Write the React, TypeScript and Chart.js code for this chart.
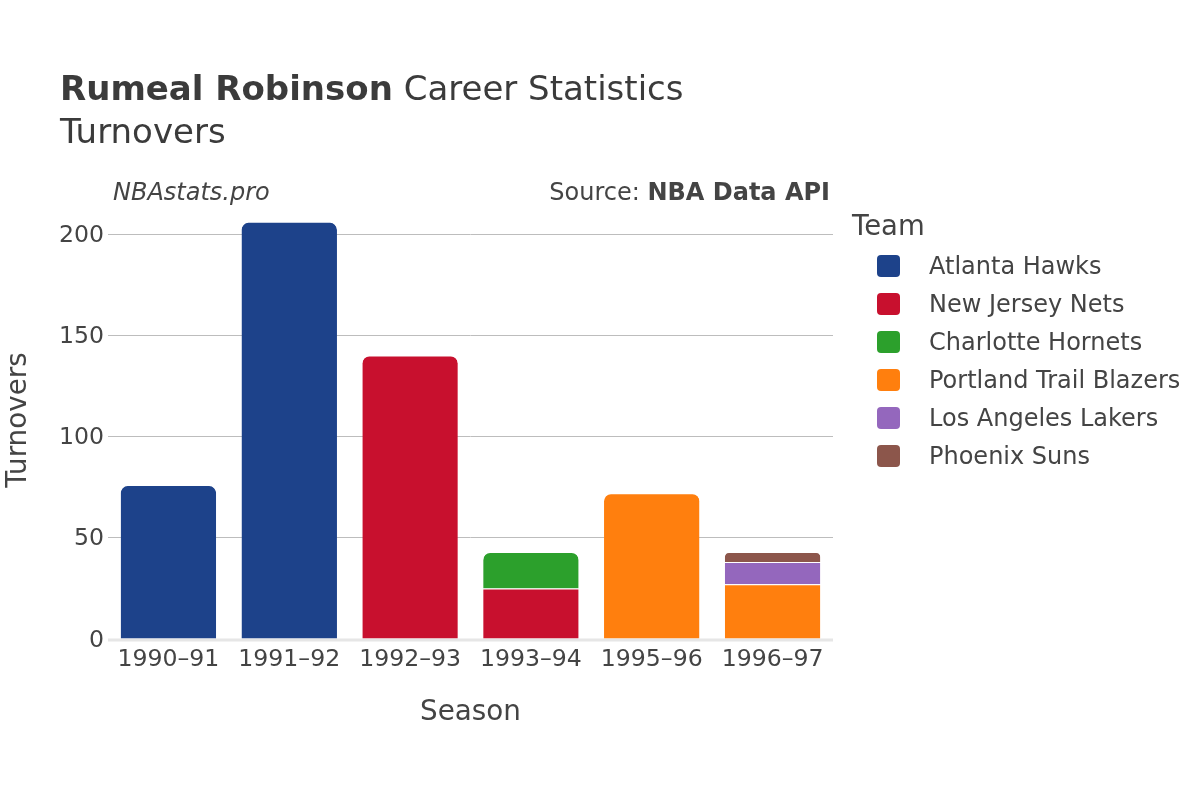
import React, { useEffect, useRef } from "react";
import { Chart, registerables } from "chart.js";

Chart.register(...registerables);

const seasons = ["1990–91", "1991–92", "1992–93", "1993–94", "1995–96", "1996–97"];
const teams = [
  "Atlanta Hawks",
  "New Jersey Nets",
  "Charlotte Hornets",
  "Portland Trail Blazers",
  "Los Angeles Lakers",
  "Phoenix Suns",
];
const teamColors = ["#1d428a", "#c8102e", "#2ca02c", "#ff7f0e", "#9467bd", "#8c564b"];
const atlantaHawks = [76, 206, null, null, null, null];
const newJerseyNets = [null, null, 140, 25, null, null];
const charlotteHornets = [null, null, null, 18, null, null];
const portlandTrailBlazers = [null, null, null, null, 72, 27];
const losAngelesLakers = [null, null, null, null, null, 11];
const phoenixSuns = [null, null, null, null, null, 5];
const yTicks = [0, 50, 100, 150, 200];
const yMax = 216.8;

const seriesValues = [
  atlantaHawks,
  newJerseyNets,
  charlotteHornets,
  portlandTrailBlazers,
  losAngelesLakers,
  phoenixSuns,
];

const FONT = "'DejaVu Sans', sans-serif";
const TEXT = "#444";

function isTopOfStack(datasetIndex: number, index: number) {
  for (let d = seriesValues.length - 1; d >= 0; d--) {
    const v = seriesValues[d][index];
    if (v !== null && v !== undefined && v > 0) return d === datasetIndex;
  }
  return false;
}

const decorPlugin = {
  id: "decor",
  beforeDatasetsDraw(chart: any) {
    const { ctx, chartArea } = chart;
    ctx.save();
    ctx.fillStyle = "#e6e6e6";
    ctx.fillRect(chartArea.left, chartArea.bottom - 0.5, chartArea.right - chartArea.left, 3);
    ctx.restore();
  },
  afterDraw(chart: any) {
    const { ctx, chartArea } = chart;
    ctx.save();
    ctx.fillStyle = "#3b3b3b";
    ctx.textBaseline = "middle";
    ctx.textAlign = "left";
    // Title
    ctx.font = `bold 34px ${FONT}`;
    const bold = "Rumeal Robinson";
    ctx.fillText(bold, 60, 91);
    const bw = ctx.measureText(bold).width;
    ctx.font = `34px ${FONT}`;
    ctx.fillText(" Career Statistics", 60 + bw, 91);
    ctx.fillText("Turnovers", 60, 134);

    // Subtitle
    ctx.fillStyle = TEXT;
    ctx.font = `italic 24px ${FONT}`;
    ctx.fillText("NBAstats.pro", 113, 194);
    ctx.textAlign = "right";
    ctx.font = `bold 24px ${FONT}`;
    const src = "NBA Data API";
    ctx.fillText(src, 830, 194);
    const sw = ctx.measureText(src).width;
    ctx.font = `24px ${FONT}`;
    ctx.fillText("Source: ", 830 - sw, 194);

    // Axis titles
    ctx.textAlign = "center";
    ctx.font = `27.8px ${FONT}`;
    ctx.fillText("Season", (chartArea.left + chartArea.right) / 2, 713);
    ctx.save();
    ctx.translate(19, 420);
    ctx.rotate(-Math.PI / 2);
    ctx.fillText("Turnovers", 0, 0);
    ctx.restore();

    // Legend
    ctx.textAlign = "left";
    ctx.font = `27.5px ${FONT}`;
    ctx.fillText("Team", 852, 228);
    ctx.font = `24px ${FONT}`;
    teams.forEach((t, i) => {
      const cy = 266 + i * 38;
      ctx.fillStyle = teamColors[i];
      ctx.beginPath();
      (ctx as any).roundRect(877, cy - 11, 23, 22, 4);
      ctx.fill();
      ctx.fillStyle = TEXT;
      ctx.fillText(t, 929, cy + 2);
    });
    ctx.restore();
  },
};

export default function App() {
  const ref = useRef<HTMLCanvasElement | null>(null);
  useEffect(() => {
    if (!ref.current) return;
    const chart = new Chart(ref.current, {
      type: "bar",
      data: {
        labels: seasons,
        datasets: teams.map((t, i) => ({
          label: t,
          data: seriesValues[i],
          backgroundColor: teamColors[i],
          borderColor: "#ffffff",
          borderWidth: { top: 1, left: 0, right: 0, bottom: 0 },
          borderSkipped: "start",
          borderRadius: (c: any) =>
            isTopOfStack(c.datasetIndex, c.dataIndex)
              ? { topLeft: 8, topRight: 8, bottomLeft: 0, bottomRight: 0 }
              : 0,
          barPercentage: 0.79,
          categoryPercentage: 1,
        })),
      },
      options: {
        responsive: false,
        animation: false,
        layout: { padding: { top: 200, left: 0, right: 367, bottom: 0 } },
        plugins: {
          legend: { display: false },
          title: { display: false },
          tooltip: { enabled: false },
        },
        scales: {
          x: {
            stacked: true,
            grid: { display: false, drawTicks: false },
            border: { display: false },
            ticks: {
              color: TEXT,
              font: { family: FONT, size: 23.6 },
              padding: 7,
              maxRotation: 0,
            },
            afterFit: (s: any) => {
              s.height = 161;
            },
          },
          y: {
            stacked: true,
            min: 0,
            max: yMax,
            grid: {
              color: (c: any) => (c.tick && c.tick.value === 0 ? "rgba(0,0,0,0)" : "#bdbdbd"),
              lineWidth: 1,
              drawTicks: false,
            },
            border: { display: false },
            afterBuildTicks: (s: any) => {
              s.ticks = yTicks.map((v) => ({ value: v }));
            },
            ticks: {
              color: TEXT,
              font: { family: FONT, size: 23.6 },
              padding: 4,
              labelOffset: 1.5,
            },
            afterFit: (s: any) => {
              s.width = 108;
            },
          },
        },
      },
      plugins: [decorPlugin],
    });
    return () => chart.destroy();
  }, []);
  return (
    <div style={{ position: "fixed", left: 0, top: 0, width: 1200, height: 800, background: "#fff" }}>
      <canvas ref={ref} width={1200} height={800} />
    </div>
  );
}
